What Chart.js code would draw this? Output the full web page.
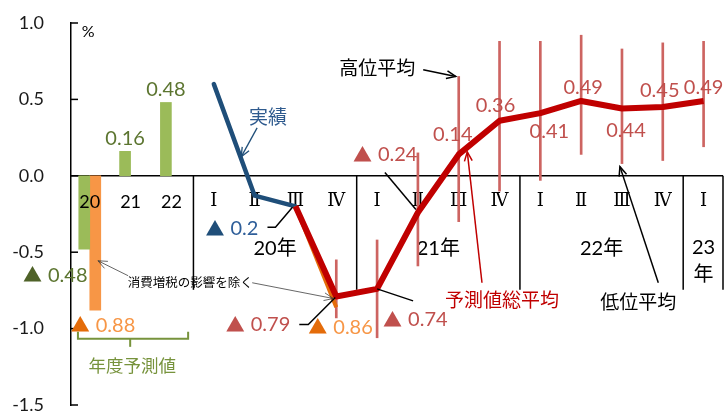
<!DOCTYPE html>
<html lang="ja">
<head>
<meta charset="utf-8">
<title>物価見通し</title>
<script src="https://cdn.jsdelivr.net/npm/chart.js@4.4.1/dist/chart.umd.min.js"></script>
<style>
  html, body { margin: 0; padding: 0; background: #fff; }
  #wrap { width: 724px; height: 414px; }
</style>
</head>
<body>
<div id="wrap"><canvas id="myChart" width="724" height="414"></canvas></div>
<script>
// 年度予測値（20〜22年度）
const fyLabels = ["20", "21", "22"];
const fyForecast = [-0.48, 0.16, 0.48];
const fyExTax = [-0.88]; // 消費増税の影響を除く

// 四半期（20年Ⅰ〜23年Ⅰ）
const quarterLabels = ["Ⅰ", "Ⅱ", "Ⅲ", "Ⅳ", "Ⅰ", "Ⅱ", "Ⅲ", "Ⅳ", "Ⅰ", "Ⅱ", "Ⅲ", "Ⅳ", "Ⅰ"];
const yearLabels = ["20年", "21年", "22年", "23年"];
const yearQuarters = [4, 4, 4, 1];

const actual = [0.60, -0.13, -0.20];
const forecastAvg = [null, null, -0.20, -0.79, -0.74, -0.24, 0.14, 0.36, 0.41, 0.49, 0.44, 0.45, 0.49];
const forecastExTax = [null, null, -0.20, -0.86];
const highAvg = [null, null, null, -0.55, -0.42, 0.15, 0.65, 0.88, 0.88, 0.92, 0.83, 0.87, 0.88];
const lowAvg = [null, null, null, -0.93, -1.06, -0.59, -0.30, -0.10, -0.03, 0.14, 0.08, 0.10, 0.19];

// x position on the linear axis (one unit = one quarter)
const fyX = (i) => i + 0.46;
const qX = (i) => i + 3.5;

const toPoints = (arr, xf) =>
  arr.map((v, i) => (v == null ? null : { x: xf(i), y: v })).filter((p) => p);

const rangePoints = [];
highAvg.forEach((h, i) => {
  if (h != null && lowAvg[i] != null) rangePoints.push({ x: qX(i), y: [lowAvg[i], h] });
});

// label placement for the 総平均 points (px offsets from the point)
const avgLabelPlace = [
  null, null, null,
  { dx: -46, dy: 28, align: "right", lead: [[-37, 28], [-28, 28], [-1, 1]] },
  { dx: 6, dy: 31, align: "left", lead: [[0, 0], [36, 12]] },
  { dx: -65, dy: -58, align: "left", lead: [[-33, -40], [-2, -3]] },
  { dx: -6, dy: -20, align: "center" },
  { dx: -4, dy: -15, align: "center" },
  { dx: 9, dy: 18, align: "center" },
  { dx: 2, dy: -13, align: "center" },
  { dx: 4, dy: 22, align: "center" },
  { dx: -3, dy: -16, align: "center" },
  { dx: 0, dy: -13, align: "center" },
];

const NUM_FONT = "20px Lato";
const TRI_FONT = '19px "Noto Sans CJK JP"';
const JP = '"Noto Sans CJK JP"';

const seg = (ctx, pts) => {
  ctx.beginPath();
  ctx.moveTo(pts[0][0], pts[0][1]);
  for (let k = 1; k < pts.length; k++) ctx.lineTo(pts[k][0], pts[k][1]);
  ctx.stroke();
};

const arrow = (ctx, x1, y1, x2, y2, color, w) => {
  ctx.save();
  ctx.strokeStyle = color;
  ctx.lineWidth = w;
  seg(ctx, [[x1, y1], [x2, y2]]);
  const a = Math.atan2(y2 - y1, x2 - x1);
  const len = 10;
  seg(ctx, [
    [x2 - len * Math.cos(a - 0.4), y2 - len * Math.sin(a - 0.4)],
    [x2, y2],
    [x2 - len * Math.cos(a + 0.4), y2 - len * Math.sin(a + 0.4)],
  ]);
  ctx.restore();
};

// value label: negatives are written with ▲
const valueLabel = (ctx, v, x, y, align, triColor, numColor) => {
  const num = String(Math.abs(v));
  ctx.font = NUM_FONT;
  const nw = ctx.measureText(num).width;
  let tw = 0;
  const gap = 6;
  if (v < 0) {
    ctx.font = TRI_FONT;
    tw = ctx.measureText("▲").width + gap;
  }
  const total = tw + nw;
  let left = x;
  if (align === "center") left = x - total / 2;
  if (align === "right") left = x - total;
  ctx.textBaseline = "middle";
  ctx.textAlign = "left";
  if (v < 0) {
    ctx.font = TRI_FONT;
    ctx.fillStyle = triColor;
    ctx.fillText("▲", left, y);
  }
  ctx.font = NUM_FONT;
  ctx.fillStyle = numColor;
  ctx.fillText(num, left + tw, y);
};

const tableAndLabels = {
  id: "tableAndLabels",
  beforeDatasetsDraw(chart) {
    const { ctx, chartArea } = chart;
    const X = (u) => chart.scales.x.getPixelForValue(u);
    const Y = (v) => chart.scales.y.getPixelForValue(v);
    const y0 = Y(0);
    ctx.save();
    ctx.strokeStyle = "#000";
    ctx.lineWidth = 1.5;
    // inward ticks on the value axis
    for (let v = -1.5; v <= 1.0001; v += 0.5) {
      seg(ctx, [[chartArea.left, Y(v)], [chartArea.left + 7, Y(v)]]);
    }
    // quarter table
    seg(ctx, [[chartArea.left, y0], [chartArea.right - 1, y0]]);
    const bottom = y0 + 114;
    let u = 3;
    const seps = [u];
    yearQuarters.forEach((n) => { u += n; seps.push(u); });
    seps.forEach((s) => {
      const x = Math.min(X(s), chartArea.right - 1);
      seg(ctx, [[x, y0], [x, bottom]]);
    });

    ctx.fillStyle = "#000";
    ctx.textAlign = "center";
    ctx.textBaseline = "middle";
    ctx.font = '18px "DejaVu Serif"';
    quarterLabels.forEach((q, i) => ctx.fillText(q, X(qX(i)), y0 + 26));

    ctx.font = "20px Lato, " + JP;
    let start = 3;
    yearLabels.forEach((lab, i) => {
      const cx = X(start + yearQuarters[i] / 2);
      if (yearQuarters[i] === 1) {
        ctx.fillText(lab.slice(0, 2), cx, y0 + 72);
        ctx.fillText(lab.slice(2), cx, y0 + 99);
      } else {
        ctx.fillText(lab, cx, y0 + 73);
      }
      start += yearQuarters[i];
    });
    ctx.restore();
  },
  afterDatasetsDraw(chart) {
    const { ctx } = chart;
    const X = (u) => chart.scales.x.getPixelForValue(u);
    const Y = (v) => chart.scales.y.getPixelForValue(v);
    const y0 = Y(0);
    ctx.save();

    // fiscal-year categories
    ctx.fillStyle = "#000";
    ctx.textAlign = "center";
    ctx.textBaseline = "middle";
    ctx.font = "18px Lato";
    fyLabels.forEach((l, i) => ctx.fillText(l, X(fyX(i)), y0 + 26));

    ctx.font = "16px Lato";
    ctx.fillText("%", X(0.42), Y(0.94));

    // bar labels
    const green = "#5C7530";
    fyForecast.forEach((v, i) => {
      const x = X(fyX(i) - 0.135);
      if (v < 0) valueLabel(ctx, v, 23, Y(v) + 26, "left", "#4F6228", green);
      else valueLabel(ctx, v, x, Y(v) - 13, "center", green, green);
    });
    fyExTax.forEach((v, i) => {
      valueLabel(ctx, v, X(fyX(i)) - 19, Y(v) + 15, "left", "#E46C0A", "#F79646");
    });

    // 実績
    const ai = actual.length - 1;
    const ap = [X(qX(ai)), Y(actual[ai])];
    valueLabel(ctx, actual[ai], ap[0] - 90, ap[1] + 22, "left", "#1F4E79", "#2E5E99");
    ctx.strokeStyle = "#000";
    ctx.lineWidth = 1.5;
    seg(ctx, [[ap[0] - 28, ap[1] + 21], [ap[0] - 20, ap[1] + 21], [ap[0] - 3, ap[1] + 1]]);

    // 消費増税の影響を除く (Ⅳ)
    const ep = [X(qX(3)), Y(forecastExTax[3])];
    valueLabel(ctx, forecastExTax[3], ep[0] - 28, ep[1] + 20, "left", "#E46C0A", "#F79646");

    // 予測値総平均
    forecastAvg.forEach((v, i) => {
      const pl = avgLabelPlace[i];
      if (!pl || v == null) return;
      const px = X(qX(i));
      const py = Y(v);
      valueLabel(ctx, v, px + pl.dx, py + pl.dy, pl.align, "#C0504D", "#C0504D");
      if (pl.lead) {
        ctx.strokeStyle = "#000";
        ctx.lineWidth = 1.5;
        seg(ctx, pl.lead.map((d) => [px + d[0], py + d[1]]));
      }
    });

    // annotations
    ctx.textBaseline = "middle";
    ctx.font = "19px " + JP;
    ctx.textAlign = "center";
    ctx.fillStyle = "#2E5A8E";
    ctx.fillText("実績", X(4.83), Y(0.386));
    arrow(ctx, X(4.56), Y(0.314), X(4.17), Y(0.124), "#1F4E79", 1.3);

    ctx.fillStyle = "#000";
    ctx.textAlign = "left";
    ctx.fillText("高位平均", X(6.57), Y(0.707));
    arrow(ctx, X(8.63), Y(0.694), X(qX(6)) - 3, Y(highAvg[6]), "#000", 1.5);

    ctx.textAlign = "center";
    ctx.fillStyle = "#C00000";
    ctx.fillText("予測値総平均", X(10.56), Y(-0.81));
    arrow(ctx, X(10.07), Y(-0.70), X(9.71), Y(0.157), "#C00000", 1.5);

    ctx.fillStyle = "#000";
    ctx.fillText("低位平均", X(13.9), Y(-0.825));
    arrow(ctx, X(14.39), Y(-0.70), X(13.45), Y(0.06), "#000", 1.5);

    ctx.font = "12.5px " + JP;
    ctx.fillText("消費増税の影響を除く", X(2.92), Y(-0.694));
    arrow(ctx, X(1.40), Y(-0.654), X(0.66), Y(-0.556), "#404040", 0.8);
    arrow(ctx, X(4.44), Y(-0.70), X(qX(3)) - 3, Y(forecastAvg[3]) + 2, "#404040", 0.8);

    // 年度予測値 bracket
    ctx.strokeStyle = "#77933C";
    ctx.lineWidth = 2;
    const bl = X(0.17), br = X(2.87), bt = Y(-1.02), bb = Y(-1.067);
    seg(ctx, [[bl, bt], [bl, bb], [br, bb], [br, bt]]);
    seg(ctx, [[X(1.45), bb], [X(1.45), bb + 8]]);
    ctx.fillStyle = "#77933C";
    ctx.font = "17.5px " + JP;
    ctx.fillText("年度予測値", X(1.5), Y(-1.243));

    ctx.restore();
  },
};

Chart.defaults.font.family = "Lato";

const ctx = document.getElementById("myChart").getContext("2d");
const myChart = new Chart(ctx, {
  type: "bar",
  data: {
    datasets: [
      {
        type: "line",
        label: "予測値総平均",
        data: toPoints(forecastAvg, qX),
        borderColor: "#C00000",
        borderWidth: 6,
        pointRadius: 0,
        borderJoinStyle: "round",
        order: 1,
      },
      {
        type: "line",
        label: "消費増税の影響を除く",
        data: toPoints(forecastExTax, qX),
        borderColor: "#E46C0A",
        borderWidth: 4,
        pointRadius: 0,
        order: 2,
      },
      {
        type: "line",
        label: "実績",
        data: toPoints(actual, qX),
        borderColor: "#1F4E79",
        borderWidth: 4.5,
        pointRadius: 0,
        borderCapStyle: "round",
        borderJoinStyle: "round",
        order: 3,
      },
      {
        label: "高位・低位平均",
        data: rangePoints,
        backgroundColor: "#CD6461",
        barThickness: 2,
        grouped: false,
        order: 4,
      },
      {
        label: "年度予測値",
        data: toPoints(fyForecast, (i) => fyX(i) - 0.135),
        backgroundColor: "#9BBB59",
        barThickness: 11,
        grouped: false,
        order: 5,
      },
      {
        label: "年度予測値（消費増税の影響を除く）",
        data: toPoints(fyExTax, (i) => fyX(i) + 0.135),
        backgroundColor: "#F79646",
        barThickness: 11,
        grouped: false,
        order: 5,
      },
    ],
  },
  options: {
    responsive: false,
    animation: false,
    devicePixelRatio: 1,
    layout: { padding: { top: 23, bottom: 9, left: 0, right: 0 } },
    plugins: { legend: { display: false }, tooltip: { enabled: false } },
    scales: {
      x: {
        type: "linear",
        min: 0,
        max: 16,
        offset: false,
        display: false,
      },
      y: {
        min: -1.5,
        max: 1.0,
        grid: { display: false, drawTicks: false },
        border: { display: true, color: "#000", width: 1.5 },
        ticks: {
          stepSize: 0.5,
          padding: 27,
          color: "#1a1a1a",
          font: { size: 18, lineHeight: 1 },
          callback: (v) => v.toFixed(1),
        },
        afterFit: (scale) => {
          scale.width = 71;
          scale.paddingTop = 0;
          scale.paddingBottom = 0;
        },
      },
    },
  },
  plugins: [tableAndLabels],
});
</script>
</body>
</html>
